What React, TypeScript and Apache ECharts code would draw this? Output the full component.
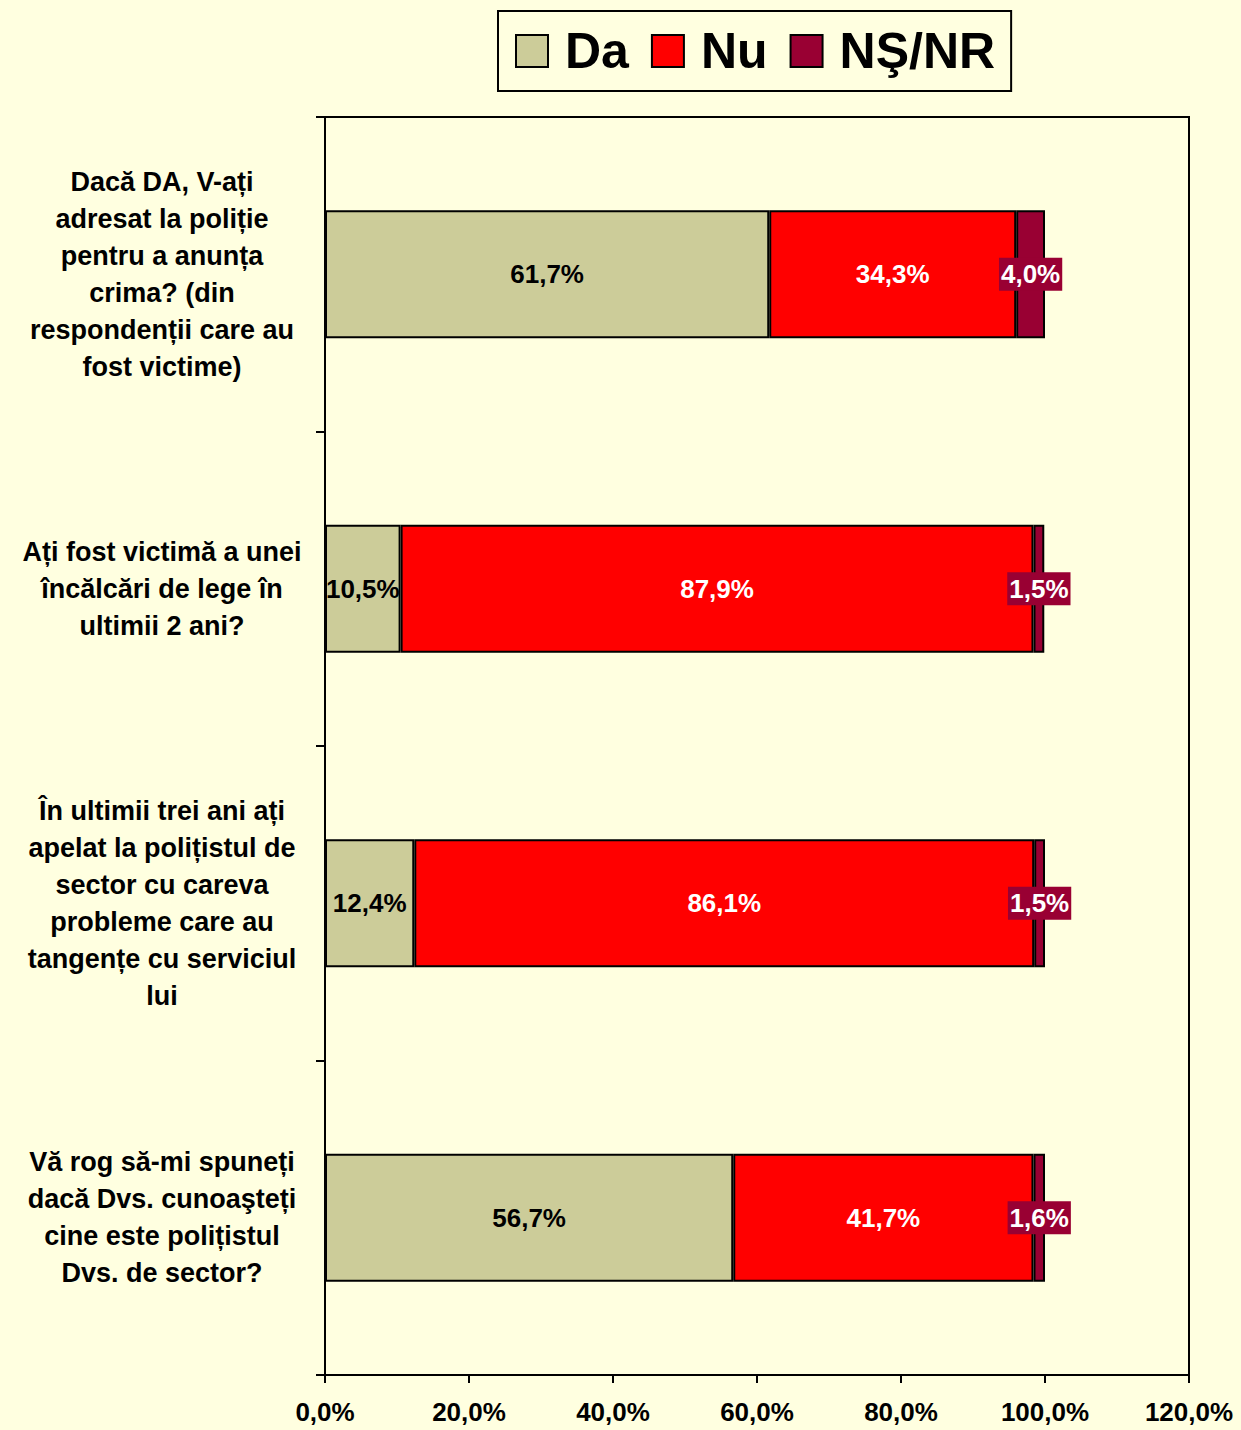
import React, { useEffect, useRef } from "react";
import * as echarts from "echarts";

const categories = [
  "Dacă DA, V-ați\nadresat la poliție\npentru a anunța\ncrima? (din\nrespondenții care au\nfost victime)",
  "Ați fost victimă a unei\nîncălcări de lege în\nultimii 2 ani?",
  "În ultimii trei ani ați\napelat la polițistul de\nsector cu careva\nprobleme care au\ntangențe cu serviciul\nlui",
  "Vă rog să-mi spuneți\ndacă Dvs. cunoaşteți\ncine este polițistul\nDvs. de sector?",
];
const daValues = [61.7, 10.5, 12.4, 56.7];
const nuValues = [34.3, 87.9, 86.1, 41.7];
const nsValues = [4.0, 1.5, 1.5, 1.6];
const seriesNames = ["Da", "Nu", "NŞ/NR"];
const xTicks = { min: 0, max: 120, interval: 20 };

const FONT = "'Liberation Sans', Arial, sans-serif";
const fmt = (v: number) => v.toFixed(1).replace(".", ",") + "%";

export default function App() {
  const ref = useRef<HTMLDivElement>(null);
  useEffect(() => {
    if (!ref.current) return;
    const chart = echarts.init(ref.current, null, { renderer: "svg" });
    const labelBase = {
      show: true,
      position: "inside" as const,
      fontFamily: FONT,
      fontWeight: "bold" as const,
      fontSize: 26,
      formatter: (p: any) => fmt(p.value),
    };
    const itemBorder = { borderColor: "#000", borderWidth: 2 };
    chart.setOption({
      animation: false,
      backgroundColor: "#FFFFE0",
      textStyle: { fontFamily: FONT },
      legend: {
        left: 498,
        top: 11,
        padding: [15, 16, 15, 17],
        itemGap: 22,
        itemWidth: 32,
        itemHeight: 32,
        icon: "rect",
        borderColor: "#000",
        borderWidth: 2,
        backgroundColor: "#FFFFE0",
        textStyle: {
          fontFamily: FONT,
          fontWeight: "bold",
          fontSize: 50,
          color: "#000",
          padding: [0, 0, 0, 12],
        },
        data: seriesNames,
      },
      grid: {
        left: 325,
        top: 117,
        width: 864,
        height: 1258,
        outerBoundsMode: "none",
        containLabel: false,
        show: true,
        borderColor: "#000",
        borderWidth: 2,
        backgroundColor: "#FFFFE0",
      },
      xAxis: {
        type: "value",
        min: xTicks.min,
        max: xTicks.max,
        interval: xTicks.interval,
        splitLine: { show: false },
        axisLine: { show: true, lineStyle: { color: "#000", width: 2 } },
        axisTick: { show: true, length: 8, lineStyle: { color: "#000", width: 2 } },
        axisLabel: {
          formatter: (v: number) => fmt(v),
          fontFamily: FONT,
          fontWeight: "bold",
          fontSize: 26,
          color: "#000",
          margin: 24,
        },
      },
      yAxis: {
        type: "category",
        inverse: true,
        data: categories,
        axisLine: { show: true, lineStyle: { color: "#000", width: 2 } },
        axisTick: { show: true, length: 9, lineStyle: { color: "#000", width: 2 } },
        axisLabel: {
          fontFamily: FONT,
          fontWeight: "bold",
          fontSize: 27,
          lineHeight: 37,
          color: "#000",
          align: "center",
          margin: 163,
        },
      },
      series: [
        {
          name: seriesNames[0],
          type: "bar",
          stack: "total",
          barWidth: 128,
          data: daValues,
          itemStyle: { color: "#CCCC99", ...itemBorder },
          label: { ...labelBase, color: "#000" },
        },
        {
          name: seriesNames[1],
          type: "bar",
          stack: "total",
          barWidth: 128,
          data: nuValues,
          itemStyle: { color: "#FF0000", ...itemBorder },
          label: { ...labelBase, color: "#fff" },
        },
        {
          name: seriesNames[2],
          type: "bar",
          stack: "total",
          barWidth: 128,
          data: nsValues,
          itemStyle: { color: "#990033", ...itemBorder },
          label: {
            ...labelBase,
            color: "#fff",
            backgroundColor: "#990033",
            padding: [4, 2, 3, 2],
          },
        },
      ],
    });
    return () => chart.dispose();
  }, []);
  return (
    <div
      ref={ref}
      style={{ position: "absolute", left: 0, top: 0, width: 1241, height: 1430 }}
    />
  );
}
